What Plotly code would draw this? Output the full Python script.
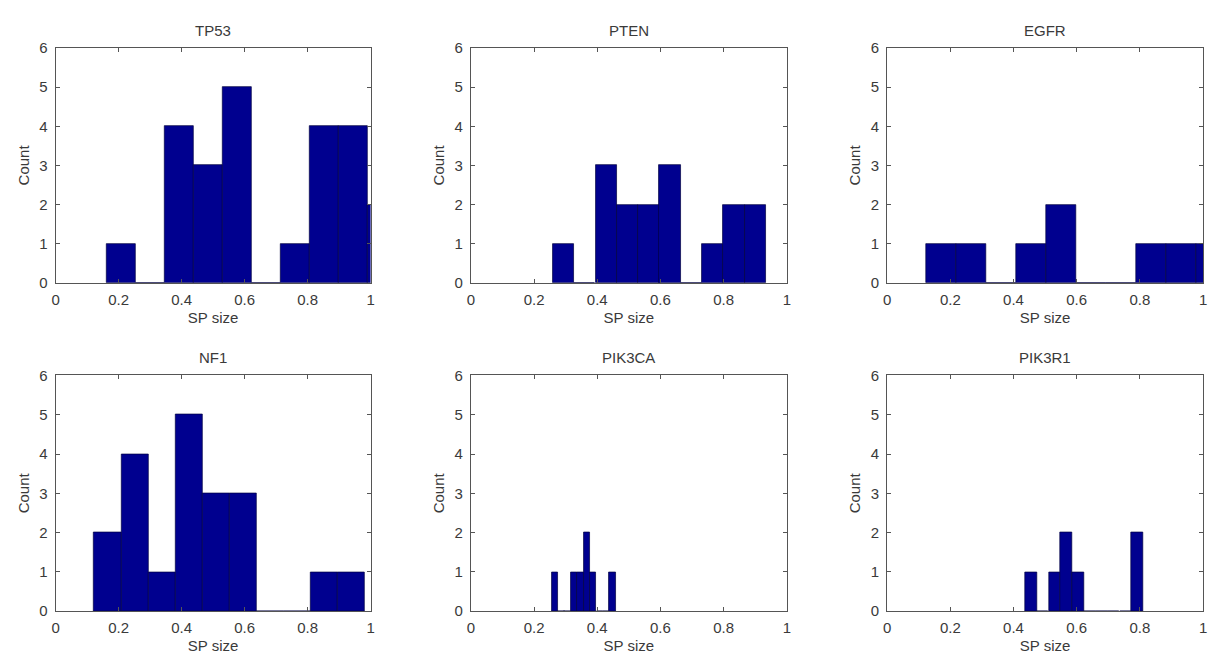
import plotly.graph_objects as go

genes = ["TP53", "PTEN", "EGFR", "NF1", "PIK3CA", "PIK3R1"]

tp53_centers = [0.208, 0.300, 0.392, 0.484, 0.576, 0.668, 0.760, 0.852, 0.944, 1.036]
tp53_counts = [1, 0, 4, 3, 5, 0, 1, 4, 4, 2]
tp53_width = 0.092

pten_centers = [0.293, 0.360, 0.428, 0.495, 0.563, 0.630, 0.698, 0.765, 0.833, 0.900]
pten_counts = [1, 0, 3, 2, 2, 3, 0, 1, 2, 2]
pten_width = 0.0675

egfr_centers = [0.1695, 0.2645, 0.3595, 0.4545, 0.5495, 0.6445, 0.7395, 0.8345, 0.9295, 1.0245]
egfr_counts = [1, 1, 0, 1, 2, 0, 0, 1, 1, 1]
egfr_width = 0.095

nf1_centers = [0.165, 0.251, 0.337, 0.423, 0.509, 0.595, 0.681, 0.767, 0.853, 0.939]
nf1_counts = [2, 4, 1, 5, 3, 3, 0, 0, 1, 1]
nf1_width = 0.086

pik3ca_centers = [0.265, 0.286, 0.306, 0.326, 0.347, 0.367, 0.387, 0.408, 0.428, 0.448]
pik3ca_counts = [1, 0, 0, 1, 1, 2, 1, 0, 0, 1]
pik3ca_width = 0.0203

pik3r1_centers = [0.455, 0.492, 0.530, 0.567, 0.605, 0.642, 0.680, 0.717, 0.755, 0.792]
pik3r1_counts = [1, 0, 1, 2, 1, 0, 0, 0, 0, 2]
pik3r1_width = 0.0375

x_ticks = [0, 0.2, 0.4, 0.6, 0.8, 1]
x_tick_labels = ["0", "0.2", "0.4", "0.6", "0.8", "1"]
y_ticks = [0, 1, 2, 3, 4, 5, 6]

series = [
    (tp53_centers, tp53_counts, tp53_width),
    (pten_centers, pten_counts, pten_width),
    (egfr_centers, egfr_counts, egfr_width),
    (nf1_centers, nf1_counts, nf1_width),
    (pik3ca_centers, pik3ca_counts, pik3ca_width),
    (pik3r1_centers, pik3r1_counts, pik3r1_width),
]

W, H = 1215, 666
col_px = [(52, 369), (470, 788), (889, 1207)]
row_px = [(40, 281), (376, 618)]

FONT = "Liberation Sans, Arial, sans-serif"
TXT = "#3a3a3a"
BAR = "#00008F"
FS = 15

fig = go.Figure()
annotations = []
for i, (gene, (cx, cy, w)) in enumerate(zip(genes, series)):
    r, c = divmod(i, 3)
    xa = "xaxis" if i == 0 else f"xaxis{i+1}"
    ya = "yaxis" if i == 0 else f"yaxis{i+1}"
    xref = "x" if i == 0 else f"x{i+1}"
    yref = "y" if i == 0 else f"y{i+1}"
    x0, x1 = col_px[c]
    top, bot = row_px[r]
    fig.add_trace(go.Bar(
        x=cx, y=cy, width=[w] * len(cx),
        marker=dict(color=BAR, line=dict(color="#000040", width=0.7)),
        xaxis=xref, yaxis=yref, showlegend=False, hoverinfo="x+y",
    ))
    fig.layout[xa] = dict(
        domain=[x0 / W, x1 / W], anchor=yref, range=[0, 1],
        tickvals=x_ticks, ticktext=x_tick_labels,
        ticks="inside", ticklen=4, tickcolor="#555555",
        showline=True, linecolor="#555555", linewidth=1, mirror="ticks",
        showgrid=False, zeroline=False, ticklabelstandoff=3,
        tickfont=dict(family=FONT, size=FS, color=TXT),
        title=dict(text="SP size", font=dict(family=FONT, size=FS, color=TXT), standoff=5),
    )
    fig.layout[ya] = dict(
        domain=[1 - bot / H, 1 - top / H], anchor=xref, range=[0, 6],
        tickvals=y_ticks,
        ticks="inside", ticklen=4, tickcolor="#555555",
        showline=True, linecolor="#555555", linewidth=1, mirror="ticks",
        showgrid=False, zeroline=False, ticklabelstandoff=4,
        tickfont=dict(family=FONT, size=FS, color=TXT),
        title=dict(text="Count", font=dict(family=FONT, size=FS, color=TXT), standoff=6),
    )
    annotations.append(dict(
        text=gene, x=(x0 + x1) / 2 / W, y=1 - (top - 18) / H,
        xref="paper", yref="paper", xanchor="center", yanchor="middle",
        showarrow=False, font=dict(family=FONT, size=FS, color=TXT),
    ))

fig.update_layout(
    width=W, height=H, margin=dict(l=0, r=0, t=0, b=0),
    paper_bgcolor="white", plot_bgcolor="white",
    bargap=0, annotations=annotations,
)

fig.write_html("out.html")
